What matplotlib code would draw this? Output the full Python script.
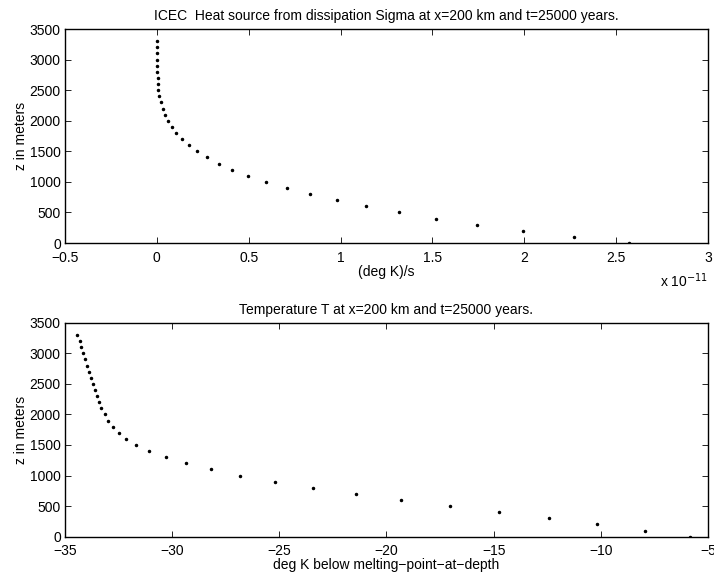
import matplotlib
matplotlib.use("Agg")
import matplotlib.pyplot as plt
from matplotlib.ticker import FuncFormatter

plt.rcParams['font.family'] = ['Liberation Sans', 'DejaVu Sans']
plt.rcParams['font.size'] = 10

z = [0, 100, 200, 300, 400, 500, 600, 700, 800, 900, 1000, 1100, 1200, 1300,
     1400, 1500, 1600, 1700, 1800, 1900, 2000, 2100, 2200, 2300, 2400, 2500,
     2600, 2700, 2800, 2900, 3000, 3100, 3200, 3300]

# heat source, units of 1e-11 (deg K)/s
sigma_e11 = [2.569, 2.268, 1.993, 1.745, 1.522, 1.320, 1.138, 0.978, 0.833,
             0.707, 0.594, 0.496, 0.411, 0.337, 0.274, 0.221, 0.176, 0.136,
             0.105, 0.080, 0.060, 0.042, 0.031, 0.022, 0.013, 0.009, 0.005,
             0.004, 0.002, 0.001, 0.001, 0.000, 0.000, 0.000]
sigma = [v * 1e-11 for v in sigma_e11]

temp = [-5.85, -7.95, -10.16, -12.44, -14.76, -17.05, -19.30, -21.43, -23.43,
        -25.22, -26.84, -28.20, -29.36, -30.30, -31.06, -31.67, -32.14, -32.50,
        -32.76, -32.98, -33.15, -33.30, -33.43, -33.52, -33.61, -33.71, -33.80,
        -33.88, -33.97, -34.07, -34.16, -34.24, -34.31, -34.42]

yticks = [0, 500, 1000, 1500, 2000, 2500, 3000, 3500]
xticks_top = [-0.5e-11, 0, 0.5e-11, 1e-11, 1.5e-11, 2e-11, 2.5e-11, 3e-11]
xticks_bot = [-35, -30, -25, -20, -15, -10, -5]

fig = plt.figure(figsize=(7.14, 5.84), dpi=100)
ax1 = fig.add_axes([0.0910, 0.5839, 0.9006, 0.3664])
ax2 = fig.add_axes([0.0910, 0.0810, 0.9006, 0.3664])

def style(ax):
    ax.tick_params(direction='in', top=True, right=True, length=4, width=0.6,
                   labelsize=10)
    ax.tick_params(axis='x', pad=5.5)
    ax.tick_params(axis='y', pad=3)
    for s in ax.spines.values():
        s.set_linewidth(1.0)

ax1.plot(sigma, z, linestyle='none', marker='.', color='black', markersize=3)
ax1.set_xlim(-0.5e-11, 3e-11)
ax1.set_ylim(0, 3500)
ax1.set_xticks(xticks_top)
ax1.set_yticks(yticks)
ax1.xaxis.set_major_formatter(FuncFormatter(lambda v, p: ('%g' % round(v / 1e-11, 3)).replace('-', '\u2212')))
ax1.set_xlabel('(deg K)/s', labelpad=0)
ax1.set_ylabel('z in meters', labelpad=1)
ax1.set_title('ICEC  Heat source from dissipation Sigma at x=200 km and t=25000 years.',
              fontsize=10, pad=6.5)
style(ax1)
ax1.text(1.0, -0.178, r'x 10$^{-11}$', transform=ax1.transAxes, ha='right',
         va='center', fontsize=10)

ax2.plot(temp, z, linestyle='none', marker='.', color='black', markersize=3)
ax2.set_xlim(-35, -5)
ax2.set_ylim(0, 3500)
ax2.set_xticks(xticks_bot)
ax2.set_yticks(yticks)
ax2.set_xlabel('deg K below melting\u2212point\u2212at\u2212depth', labelpad=0)
ax2.set_ylabel('z in meters', labelpad=1)
ax2.set_title('Temperature T at x=200 km and t=25000 years.', fontsize=10, pad=6.5)
style(ax2)

fig.savefig('out.png', dpi=100, facecolor='white')
